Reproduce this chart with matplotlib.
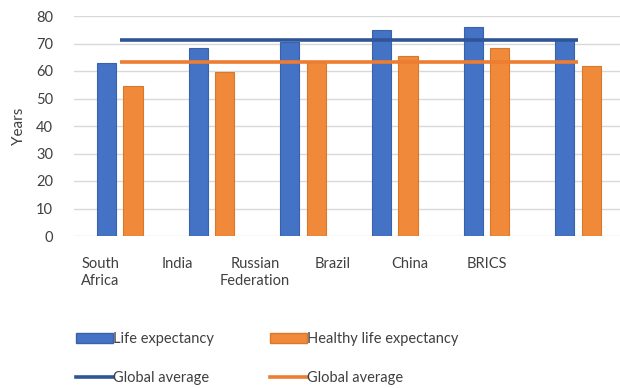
import numpy as np
import matplotlib.pyplot as plt
from matplotlib.patches import Patch
from matplotlib.lines import Line2D

plt.rcParams['font.family'] = ['Lato', 'DejaVu Sans']

# Data
countries = ['South\nAfrica', 'India', 'Russian\nFederation', 'Brazil', 'China', 'BRICS']
life_exp = [62.9, 68.3, 70.5, 75.0, 76.1, 71.2]
healthy_life_exp = [54.5, 59.5, 63.3, 65.5, 68.5, 62.0]
global_life_exp = 71.4
global_healthy = 63.1
y_ticks = [0, 10, 20, 30, 40, 50, 60, 70, 80]

blue = '#4472c4'
blue_edge = '#3a62ab'
blue_line = '#2f5597'
orange = '#f08a3a'
orange_edge = '#d9772b'
orange_line = '#ed7d31'

fig = plt.figure(figsize=(6.2, 3.88), dpi=100)
ax = fig.add_axes([74 / 620, 152 / 388, 550 / 620, 220 / 388])

x = np.arange(len(countries))
w = 0.21
ax.bar(x - 0.145, life_exp, width=w, color=blue, edgecolor=blue_edge, linewidth=0.8, zorder=2)
ax.bar(x + 0.145, healthy_life_exp, width=w, color=orange, edgecolor=orange_edge, linewidth=0.8, zorder=2)

# global averages drawn as line series over the category centres
ax.plot(x, [global_life_exp] * len(x), color=blue_line, linewidth=2.6, zorder=3, solid_capstyle='butt')
ax.plot(x, [global_healthy] * len(x), color=orange_line, linewidth=2.6, zorder=3, solid_capstyle='butt')

ax.set_xlim(-0.5, len(x) - 0.5)
ax.set_ylim(0, 80)
ax.set_yticks(y_ticks)
ax.yaxis.grid(True, color='#d9d9d9', linewidth=1.0, zorder=0)
ax.set_axisbelow(True)
for s in ['top', 'right', 'left', 'bottom']:
    ax.spines[s].set_visible(False)

# category labels sit a little left of the bar groups in the original
label_pos = x * 0.842 - 0.21
ax.set_xticks(label_pos)
ax.set_xticklabels(countries, fontsize=10.5, color='#404040', linespacing=1.25, va='top')
ax.tick_params(axis='x', length=0, pad=15)
ax.tick_params(axis='y', length=0, pad=15, labelsize=10.5, labelcolor='#404040')
ax.set_ylabel('Years', fontsize=11, color='#404040', labelpad=7)

handles = [
    Patch(facecolor=blue, edgecolor=blue_edge, label='Life expectancy'),
    Line2D([0], [0], color=blue_line, linewidth=2.6, label='Global average'),
    Patch(facecolor=orange, edgecolor=orange_edge, label='Healthy life expectancy'),
    Line2D([0], [0], color=orange_line, linewidth=2.6, label='Global average'),
]
fig.legend(handles=handles, loc='upper left', bbox_to_anchor=(63 / 620, 1 - 319 / 388),
           ncol=2, frameon=False, fontsize=10.5, handlelength=2.5, handletextpad=0.0,
           columnspacing=3.9, labelspacing=1.7, labelcolor='#404040')

plt.savefig('out.png', dpi=100)
plt.close()
